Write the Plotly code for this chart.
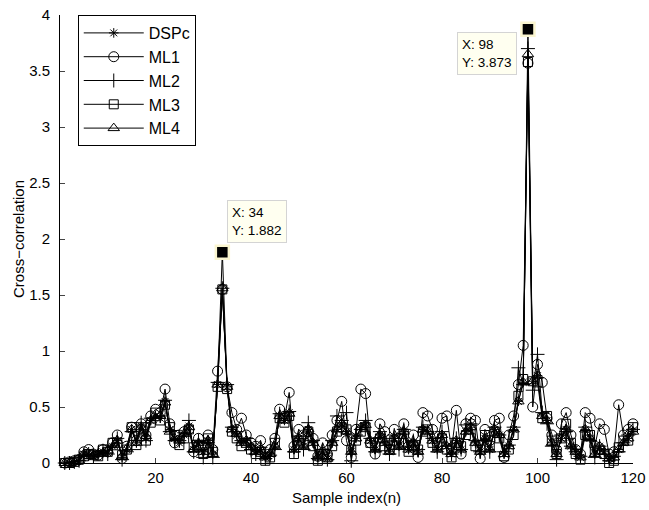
import plotly.graph_objects as go

samples = list(range(1, 121))

dspc = [0.00,0.00,0.01,0.02,0.08,0.07,0.06,0.08,0.10,0.09,
        0.15,0.20,0.05,0.12,0.30,0.18,0.33,0.22,0.38,0.42,
        0.40,0.55,0.30,0.22,0.18,0.25,0.33,0.12,0.18,0.10,
        0.20,0.08,0.70,1.882,0.68,0.30,0.25,0.18,0.20,0.15,
        0.10,0.12,0.05,0.08,0.15,0.42,0.38,0.45,0.12,0.22,
        0.15,0.30,0.18,0.05,0.10,0.04,0.18,0.30,0.35,0.28,
        0.10,0.22,0.32,0.35,0.20,0.12,0.25,0.18,0.10,0.22,
        0.15,0.28,0.12,0.18,0.10,0.30,0.28,0.20,0.12,0.25,
        0.15,0.08,0.20,0.12,0.28,0.32,0.18,0.10,0.22,0.12,
        0.30,0.25,0.08,0.15,0.30,0.55,0.72,3.873,0.73,0.78,
        0.42,0.38,0.18,0.08,0.22,0.30,0.15,0.10,0.05,0.30,
        0.22,0.08,0.15,0.10,0.04,0.05,0.12,0.18,0.22,0.28]

ml1 = [0.00,0.01,0.02,0.03,0.10,0.12,0.08,0.07,0.12,0.10,
       0.18,0.25,0.04,0.15,0.32,0.20,0.35,0.25,0.42,0.48,
       0.45,0.66,0.35,0.18,0.25,0.28,0.30,0.10,0.22,0.15,
       0.25,0.12,0.82,1.55,0.68,0.45,0.30,0.40,0.25,0.18,
       0.15,0.20,0.08,0.12,0.22,0.48,0.40,0.63,0.15,0.30,
       0.25,0.28,0.22,0.06,0.18,0.08,0.25,0.38,0.55,0.20,
       0.05,0.30,0.66,0.62,0.18,0.08,0.35,0.28,0.12,0.30,
       0.22,0.35,0.15,0.25,0.05,0.45,0.42,0.30,0.18,0.40,
       0.42,0.12,0.47,0.08,0.35,0.40,0.38,0.04,0.30,0.20,
       0.38,0.40,0.05,0.25,0.42,0.70,1.05,3.57,0.50,0.88,
       0.72,0.40,0.25,0.12,0.35,0.45,0.25,0.12,0.08,0.45,
       0.40,0.15,0.35,0.30,0.08,0.10,0.52,0.25,0.30,0.35]

ml2 = [0.00,0.00,0.01,0.02,0.07,0.08,0.06,0.09,0.11,0.08,
       0.16,0.22,0.03,0.10,0.28,0.20,0.36,0.20,0.40,0.40,
       0.42,0.56,0.28,0.20,0.20,0.27,0.38,0.10,0.20,0.05,
       0.18,0.05,0.72,1.56,0.70,0.32,0.28,0.20,0.22,0.12,
       0.08,0.14,0.04,0.07,0.12,0.44,0.42,0.46,0.10,0.24,
       0.12,0.36,0.20,0.04,0.12,0.03,0.20,0.42,0.38,0.45,
       0.02,0.25,0.30,0.38,0.22,0.10,0.28,0.22,0.08,0.25,
       0.12,0.30,0.15,0.20,0.12,0.32,0.28,0.22,0.10,0.28,
       0.15,0.08,0.22,0.12,0.34,0.35,0.20,0.10,0.20,0.10,
       0.32,0.25,0.10,0.16,0.32,0.85,0.70,3.70,0.65,0.97,
       0.45,0.35,0.15,0.03,0.25,0.28,0.15,0.10,0.06,0.32,
       0.20,0.05,0.15,0.08,0.02,0.06,0.10,0.18,0.25,0.30]

ml3 = [0.00,0.00,0.01,0.03,0.06,0.08,0.07,0.06,0.12,0.10,
       0.18,0.18,0.07,0.12,0.32,0.16,0.30,0.20,0.36,0.45,
       0.38,0.52,0.32,0.25,0.16,0.22,0.30,0.14,0.15,0.08,
       0.22,0.10,0.68,1.55,0.66,0.28,0.22,0.15,0.18,0.12,
       0.08,0.10,0.02,0.05,0.18,0.40,0.36,0.42,0.08,0.20,
       0.18,0.28,0.15,0.02,0.08,0.05,0.15,0.28,0.32,0.30,
       0.12,0.20,0.28,0.32,0.18,0.15,0.22,0.15,0.12,0.20,
       0.18,0.26,0.10,0.15,0.12,0.28,0.30,0.18,0.15,0.22,
       0.12,0.05,0.18,0.15,0.25,0.30,0.15,0.12,0.25,0.15,
       0.28,0.22,0.06,0.12,0.25,0.60,0.75,3.58,0.73,0.72,
       0.40,0.42,0.20,0.08,0.22,0.35,0.18,0.08,0.03,0.25,
       0.25,0.10,0.12,0.08,0.00,0.02,0.14,0.20,0.20,0.32]

ml4 = [0.00,0.00,0.01,0.02,0.08,0.06,0.07,0.08,0.09,0.11,
       0.14,0.20,0.06,0.13,0.30,0.18,0.32,0.24,0.38,0.40,
       0.42,0.54,0.28,0.22,0.20,0.26,0.32,0.12,0.18,0.10,
       0.20,0.08,0.70,1.56,0.68,0.30,0.26,0.18,0.20,0.14,
       0.10,0.12,0.05,0.08,0.15,0.42,0.38,0.44,0.12,0.22,
       0.15,0.30,0.18,0.05,0.10,0.04,0.18,0.30,0.35,0.28,
       0.10,0.22,0.32,0.34,0.20,0.12,0.25,0.18,0.10,0.22,
       0.15,0.28,0.12,0.18,0.10,0.30,0.28,0.20,0.12,0.25,
       0.15,0.08,0.20,0.12,0.28,0.32,0.18,0.10,0.22,0.12,
       0.30,0.25,0.08,0.15,0.30,0.55,0.72,3.65,0.73,0.78,
       0.42,0.38,0.18,0.08,0.22,0.30,0.15,0.10,0.05,0.30,
       0.22,0.08,0.15,0.10,0.04,0.05,0.12,0.18,0.22,0.28]

series_names = ["DSPc", "ML1", "ML2", "ML3", "ML4"]
series_values = [dspc, ml1, ml2, ml3, ml4]
series_symbols = ["asterisk-open", "circle-open", "cross-thin-open", "square-open", "triangle-up-open"]
series_sizes = [8, 10, 10, 9, 10]

tip_x = [34, 98]

x_ticks = [20, 40, 60, 80, 100, 120]
y_ticks = [0, 0.5, 1, 1.5, 2, 2.5, 3, 3.5, 4]
y_ticklabels = ["0", "0.5", "1", "1.5", "2", "2.5", "3", "3.5", "4"]

FONT = "Liberation Sans, Arial, sans-serif"

fig = go.Figure()
for i, (name, vals, sym, sz) in enumerate(zip(series_names, series_values, series_symbols, series_sizes)):
    fig.add_trace(go.Scatter(
        x=samples, y=vals, name=name, mode="lines+markers",
        line=dict(color="black", width=1),
        marker=dict(symbol=sym, size=sz, color="black", line=dict(color="black", width=1)),
        cliponaxis=False, legendgroup=name,
    ))

# data tips on DSPc
tip_y = [dspc[samples.index(xv)] for xv in tip_x]
fig.add_trace(go.Scatter(
    x=tip_x, y=tip_y, mode="markers", showlegend=False,
    marker=dict(symbol="square", size=13, color="black", line=dict(color="#fbf6d0", width=2.5)),
    cliponaxis=False,
))

anchors = [dict(xanchor="left", yanchor="bottom", xshift=5, yshift=9),
           dict(xanchor="right", yanchor="top", xshift=-11, yshift=-3)]
for xv, yv, a in zip(tip_x, tip_y, anchors):
    fig.add_annotation(
        x=xv, y=yv, xref="x", yref="y", showarrow=False,
        text=f"X: {xv}<br>Y: {yv:.3f}", align="left",
        font=dict(family=FONT, size=13.5, color="black"),
        bgcolor="#fffff0", bordercolor="#d4d4d4", borderwidth=1, borderpad=4,
        **a,
    )

fig.update_layout(
    width=649, height=510,
    margin=dict(l=60, r=16, t=15, b=47, autoexpand=False),
    paper_bgcolor="white", plot_bgcolor="white",
    font=dict(family=FONT, size=14, color="black"),
    showlegend=True,
    legend=dict(x=0.031, y=1.0, xanchor="left", yanchor="top",
                bgcolor="white", bordercolor="black", borderwidth=1,
                font=dict(family=FONT, size=16, color="black"),
                traceorder="grouped", tracegroupgap=0, itemwidth=60),
)
fig.update_xaxes(range=[0, 120], tickvals=x_ticks, ticks="inside", ticklen=5,
                 showline=True, linecolor="black", linewidth=1, showgrid=False, zeroline=False,
                 automargin=True, ticklabelstandoff=1, ticklabeloverflow="allow",
                 title=dict(text="Sample index(n)", standoff=7, font=dict(size=15)),
                 tickfont=dict(size=15))
fig.update_yaxes(range=[0, 4], tickvals=y_ticks, ticktext=y_ticklabels, ticks="inside", ticklen=5,
                 showline=True, linecolor="black", linewidth=1, showgrid=False, zeroline=False,
                 automargin=False, ticklabelstandoff=6, ticklabeloverflow="allow",
                 title=dict(text="Cross\u2212correlation", standoff=0, font=dict(size=15)),
                 tickfont=dict(size=15))

fig.write_html("out.html", config={"displayModeBar": False},
               post_script="document.body.style.margin='0';")
